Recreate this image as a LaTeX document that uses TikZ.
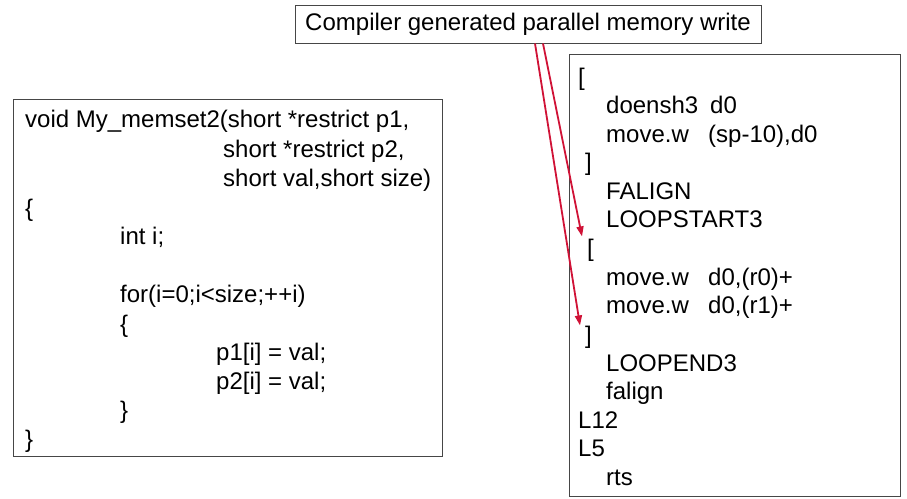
\documentclass[tikz,border=0pt]{standalone}
\usepackage{fontspec}
\setmainfont{Liberation Sans}
\usetikzlibrary{arrows.meta,calc}
\definecolor{memred}{RGB}{208,18,54}
\definecolor{boxgray}{RGB}{70,70,70}
\begin{document}
\begin{tikzpicture}[x=1pt,y=-1pt,
    code/.style={anchor=base west,inner sep=0pt,font=\fontsize{24}{29}\selectfont},
    frame/.style={draw=boxgray,line width=1pt},
    wr/.style={draw=memred,line width=1.8pt,-{Triangle[length=10pt,width=7pt]}}]
    \useasboundingbox (0,0) rectangle (907,498);
    % title
    \node (title) at (528,24) [frame,minimum width=466pt,minimum height=38pt,inner sep=0pt,
        font=\fontsize{24}{29}\selectfont] {Compiler generated parallel memory write};
    % C source
    \draw[frame] (13,99) rectangle (442,456);
    \node (c1) at (25,127) [code] {void My\_memset2(short *restrict p1,};
    \node (c2) at (223,157) [code] {short *restrict p2,};
    \node (c3) at (223,186) [code] {short val,short size)};
    \node (c4) at (25,216) [code] {\{};
    \node (c5) at (120,244) [code] {int i;};
    \node (c6) at (120,302) [code] {for(i=0;i<size;++i)};
    \node (c7) at (120,332) [code] {\{};
    \node (c8) at (216,360) [code] {p1[i] = val;};
    \node (c9) at (216,389) [code] {p2[i] = val;};
    \node (c10) at (120,418) [code] {\}};
    \node (c11) at (25,447) [code] {\}};
    % generated assembly
    \draw[frame] (569,54) rectangle (900,496);
    \node (a1) at (578,85) [code] {[};
    \node (a2) at (606,113) [code] {\makebox[104pt][l]{doensh3}d0};
    \node (a3) at (606,142) [code] {\makebox[102pt][l]{move.w}(sp-10),d0};
    \node (a4) at (585,170) [code] {]};
    \node (a5) at (606,199) [code] {FALIGN};
    \node (a6) at (606,227) [code] {LOOPSTART3};
    \node (a7) at (587,256) [code] {[};
    \node (a8) at (606,285) [code] {\makebox[102pt][l]{move.w}d0,(r0)+};
    \node (a9) at (606,313) [code] {\makebox[102pt][l]{move.w}d0,(r1)+};
    \node (a10) at (585,343) [code] {]};
    \node (a11) at (606,371) [code] {LOOPEND3};
    \node (a12) at (606,399) [code] {falign};
    \node (a13) at (578,428) [code] {L12};
    \node (a14) at (578,456) [code] {L5};
    \node (a15) at (606,485) [code] {rts};
    % arrows
    \draw[wr] ($(title.south)+(15,0)$) -- ([xshift=-5pt,yshift=2pt]a7.north west);
    \draw[wr] ($(title.south)+(7,0)$) -- ([xshift=-5pt]a10.north west);
\end{tikzpicture}
\end{document}
